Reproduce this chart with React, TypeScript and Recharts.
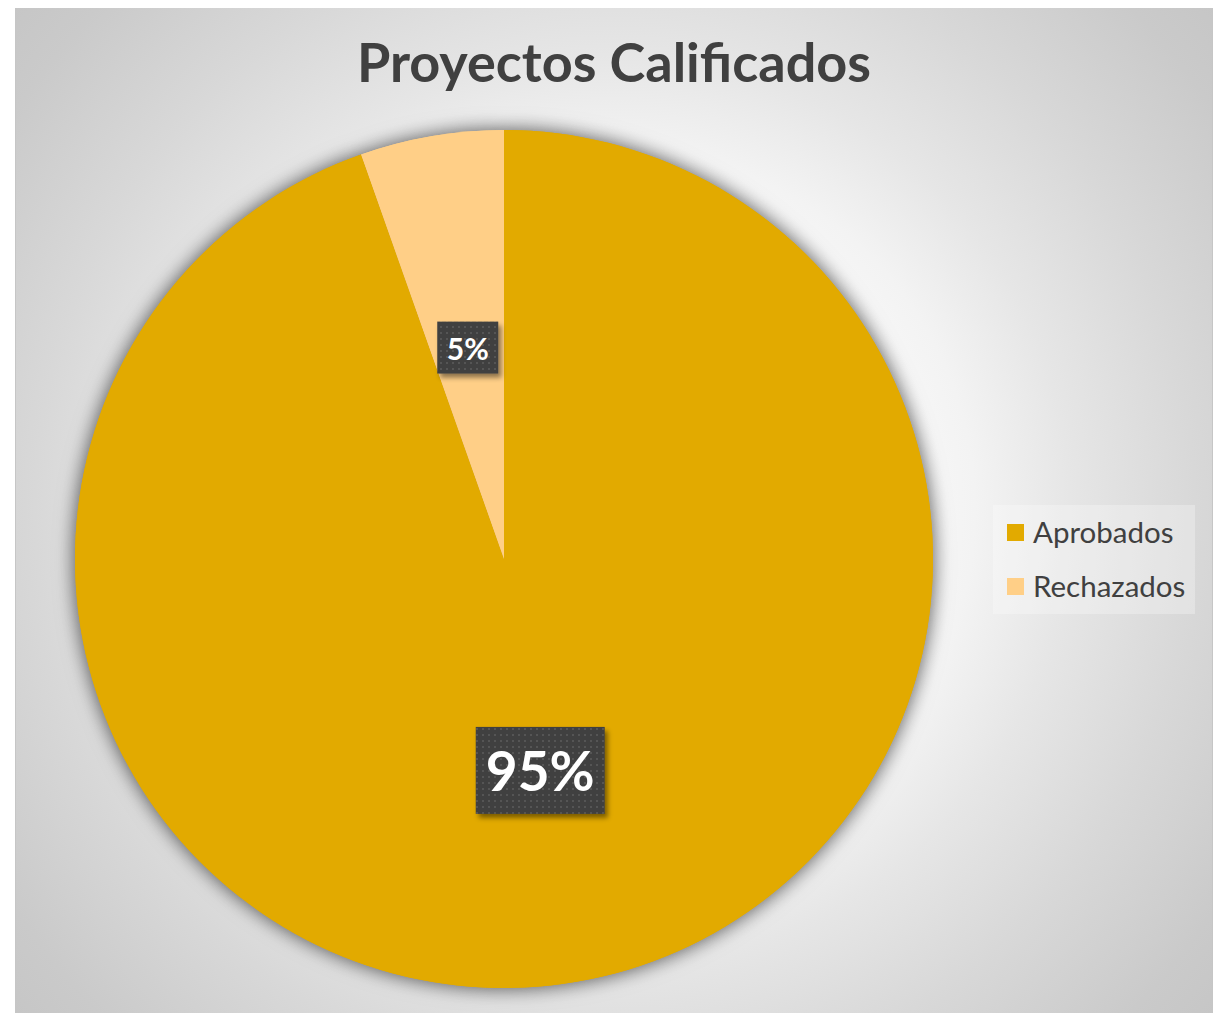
import React from 'react';
import { PieChart, Pie, Cell, Legend } from 'recharts';

const categories = ['Aprobados', 'Rechazados'];
const values = [35, 2];
const colors = ['#E2AA00', '#FFCF87'];
const title = 'Proyectos Calificados';

const data = categories.map((name, i) => ({ name, value: values[i] }));

const FONT = 'Lato, "Open Sans", sans-serif';
const RAD = Math.PI / 180;
const labelFont = [55, 30];
const labelBox = [
  { w: 129, h: 87 },
  { w: 61, h: 52 },
];

const renderLabel = (props: any) => {
  const { cx, cy, midAngle, outerRadius, percent, index } = props;
  const r = outerRadius * 0.5;
  const x = cx + r * Math.cos(-midAngle * RAD);
  const y = cy + r * Math.sin(-midAngle * RAD);
  const b = labelBox[index] || labelBox[0];
  const fs = labelFont[index] || 30;
  const txt = `${Math.round(percent * 100)}%`;
  return (
    <g key={`lbl-${index}`}>
      <defs>
        <pattern id={`dots-${index}`} width="6" height="6" patternUnits="userSpaceOnUse">
          <rect width="6" height="6" fill="#404040" />
          <rect x="2" y="2" width="2" height="2" fill="#555555" />
        </pattern>
        <filter id={`lblshadow-${index}`} x="-20%" y="-20%" width="150%" height="150%">
          <feDropShadow dx="3" dy="4" stdDeviation="2.5" floodColor="#000" floodOpacity="0.45" />
        </filter>
      </defs>
      <rect
        x={x - b.w / 2}
        y={y - b.h / 2}
        width={b.w}
        height={b.h}
        fill={`url(#dots-${index})`}
        filter={`url(#lblshadow-${index})`}
      />
      <text
        x={x}
        y={y}
        textAnchor="middle"
        dominantBaseline="central"
        fill="#ffffff"
        fontFamily={FONT}
        fontWeight={700}
        fontSize={fs}
      >
        {txt}
      </text>
    </g>
  );
};

const renderLegend = (props: any) => {
  const payload = (props.payload || []).filter((p: any) => p.type !== 'none');
  return (
    <div
      style={{
        background: 'rgba(255,255,255,0.28)',
        width: 202,
        height: 109,
        boxSizing: 'border-box',
        padding: '0 0 0 14px',
        fontFamily: FONT,
      }}
    >
      {payload.map((p: any, i: number) => (
        <div key={i} style={{ display: 'flex', alignItems: 'center', height: 54 }}>
          <div style={{ width: 17, height: 17, background: p.color, marginRight: 9 }} />
          <span style={{ fontSize: 29.5, color: '#404040', lineHeight: '30px' }}>{p.value}</span>
        </div>
      ))}
    </div>
  );
};

export default function App() {
  return (
    <div style={{ position: 'relative', width: 1225, height: 1013, margin: '-8px 0 0 -8px', overflow: 'hidden', background: '#ffffff' }}>
      <style>{`.pie-shadow { filter: drop-shadow(0px 0px 9px rgba(0,0,0,0.35)); }`}</style>
      <div
        style={{
          position: 'absolute',
          left: 15,
          top: 5,
          width: 1198,
          height: 1020,
          boxSizing: 'border-box',
          border: '1px solid #c6c6c6',
          background:
            'radial-gradient(circle at 599px 504px, #ffffff 0px, #fbfbfb 250px, #f3f3f3 360px, #e6e6e6 455px, #d8d8d8 580px, #cacaca 720px, #c2c2c2 850px)',
        }}
      />
      <div
        style={{
          position: 'absolute',
          left: 0,
          width: 1228,
          top: 24,
          textAlign: 'center',
          fontFamily: FONT,
          fontWeight: 700,
          fontSize: 54,
          lineHeight: '76px',
          color: '#404040',
        }}
      >
        {title}
      </div>
      <div style={{ position: 'absolute', left: 0, top: 0 }}>
        <PieChart width={1225} height={1013} margin={{ top: 0, right: 0, bottom: 0, left: 0 }}>
          <Pie
            data={data}
            dataKey="value"
            nameKey="name"
            cx={504}
            cy={559}
            outerRadius={429}
            startAngle={90}
            endAngle={-270}
            stroke="none"
            className="pie-shadow"
            legendType="none"
            isAnimationActive={false}
          >
            {data.map((d, i) => (
              <Cell key={`s-${i}`} fill={colors[i]} />
            ))}
          </Pie>
          <Pie
            data={data}
            dataKey="value"
            nameKey="name"
            cx={504}
            cy={559}
            outerRadius={429}
            startAngle={90}
            endAngle={-270}
            stroke="none"
            label={renderLabel}
            labelLine={false}
            isAnimationActive={false}
          >
            {data.map((d, i) => (
              <Cell key={`c-${i}`} fill={colors[i]} />
            ))}
          </Pie>
          <Legend
            content={renderLegend}
            wrapperStyle={{ position: 'absolute', left: 993, top: 505, width: 202, height: 109 }}
          />
        </PieChart>
      </div>
    </div>
  );
}
